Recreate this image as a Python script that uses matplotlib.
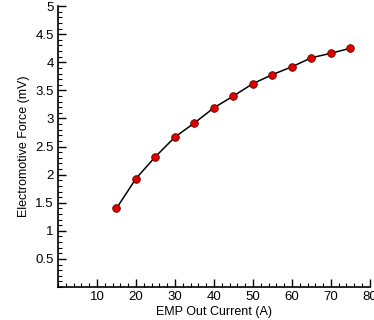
import matplotlib
matplotlib.use("Agg")
import matplotlib.pyplot as plt
from matplotlib.ticker import MultipleLocator, FixedLocator

current = [15, 20, 25, 30, 35, 40, 45, 50, 55, 60, 65, 70, 75]
emf = [1.40, 1.93, 2.32, 2.67, 2.92, 3.19, 3.40, 3.62, 3.78, 3.92, 4.08, 4.16, 4.25]
xticks = [10, 20, 30, 40, 50, 60, 70, 80]
yticks = [0.5, 1, 1.5, 2, 2.5, 3, 3.5, 4, 4.5, 5]
ytick_labels = ["0.5", "1", "1.5", "2", "2.5", "3", "3.5", "4", "4.5", "5"]

plt.rcParams['font.family'] = ['Liberation Sans', 'DejaVu Sans']
fig = plt.figure(figsize=(3.74, 3.2), dpi=100)
ax = fig.add_axes([0.155, 0.103, 0.834, 0.878])
ax.plot(current, emf, color='black', lw=1.1, marker='o', markersize=5.5,
        markerfacecolor='#dd0000', markeredgecolor='#660000', markeredgewidth=0.6)
ax.set_xlim(0, 80)
ax.set_ylim(0, 5)
ax.xaxis.set_major_locator(FixedLocator(xticks))
ax.yaxis.set_major_locator(FixedLocator(yticks))
ax.set_yticklabels(ytick_labels)
ax.xaxis.set_minor_locator(MultipleLocator(2))
ax.yaxis.set_minor_locator(MultipleLocator(0.1))
for s in ['top', 'right']:
    ax.spines[s].set_visible(False)
for s in ['left', 'bottom']:
    ax.spines[s].set_linewidth(1.2)
ax.tick_params(which='major', direction='in', length=6, width=1, labelsize=9.5, pad=3)
ax.tick_params(which='minor', direction='in', length=3, width=0.8)
ax.set_xlabel('EMP Out Current (A)', fontsize=9, labelpad=2)
ax.set_ylabel('Electromotive Force (mV)', fontsize=9, labelpad=4)
fig.savefig('out.png', dpi=100)
